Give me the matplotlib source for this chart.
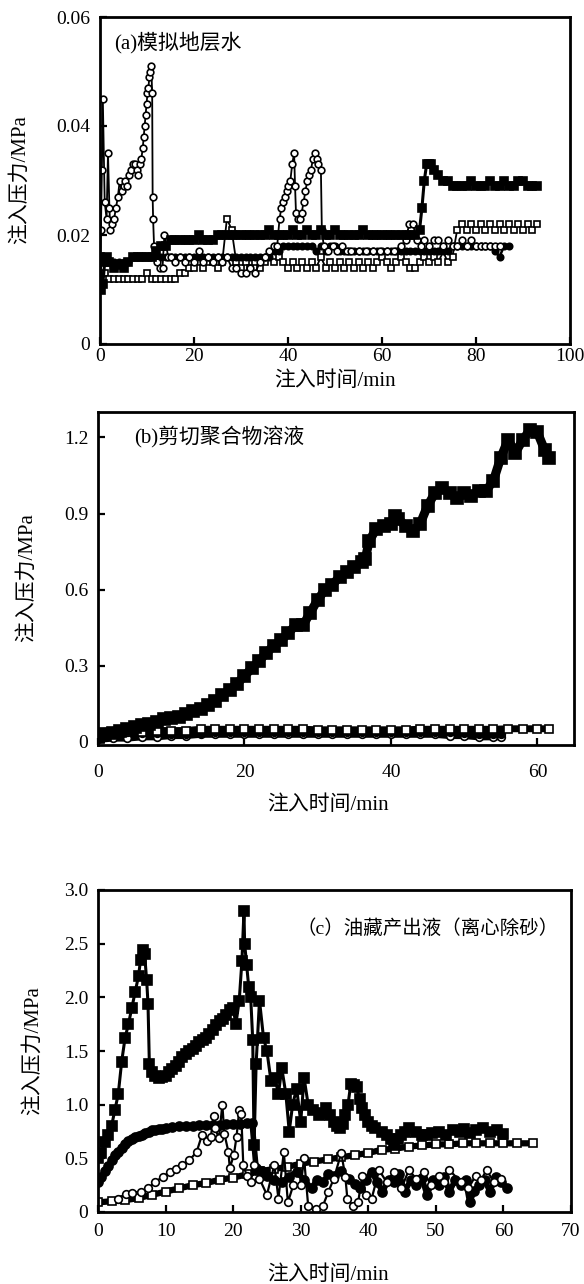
import matplotlib
matplotlib.use('Agg')
import matplotlib.pyplot as plt

plt.rcParams['font.family'] = ['Liberation Serif', 'Noto Sans CJK SC']

# ---------------- (a) 模拟地层水 ----------------
a_fsq_t = [0, 0.3, 0.6, 1, 1.5, 2, 3, 4, 5, 6,
           7, 8, 9, 10, 11, 12, 13, 14, 15, 16,
           17, 18, 19, 20, 21, 22, 23, 24, 25, 26,
           27, 28, 29, 30, 31, 32, 33, 34, 35, 36,
           37, 38, 39, 40, 41, 42, 43, 44, 45, 46,
           47, 48, 49, 50, 51, 52, 53, 54, 55, 56,
           57, 58, 59, 60, 61, 62, 63, 64, 65, 66,
           67, 68, 68.5, 69, 69.5, 70, 70.5, 71, 72, 73,
           74, 75, 76, 77, 78, 79, 80, 81, 82, 83,
           84, 85, 86, 87, 88, 89, 90, 91, 92, 93]
a_fsq_p = [0.016, 0.010, 0.011, 0.015, 0.016, 0.015, 0.014, 0.0145, 0.014, 0.015,
           0.016, 0.016, 0.016, 0.016, 0.016, 0.017, 0.018, 0.018, 0.019, 0.019,
           0.019, 0.019, 0.019, 0.019, 0.020, 0.019, 0.019, 0.019, 0.020, 0.020,
           0.020, 0.020, 0.020, 0.020, 0.020, 0.020, 0.020, 0.020, 0.020, 0.021,
           0.020, 0.020, 0.020, 0.020, 0.021, 0.020, 0.020, 0.021, 0.020, 0.020,
           0.021, 0.020, 0.020, 0.021, 0.020, 0.020, 0.020, 0.020, 0.020, 0.021,
           0.020, 0.020, 0.020, 0.020, 0.020, 0.020, 0.020, 0.020, 0.020, 0.020,
           0.020, 0.021, 0.025, 0.030, 0.033, 0.033, 0.033, 0.032, 0.031, 0.030,
           0.030, 0.029, 0.029, 0.029, 0.029, 0.030, 0.029, 0.029, 0.029, 0.030,
           0.029, 0.029, 0.030, 0.029, 0.029, 0.030, 0.030, 0.029, 0.029, 0.029]

a_osq_t = list(range(0, 94))
a_osq_p = [0.012, 0.013, 0.012, 0.012, 0.012, 0.012, 0.012, 0.012, 0.012, 0.012,
           0.013, 0.012, 0.012, 0.012, 0.012, 0.012, 0.012, 0.013, 0.013, 0.014,
           0.014, 0.015, 0.014, 0.015, 0.015, 0.014, 0.015, 0.023, 0.021, 0.015,
           0.014, 0.015, 0.014, 0.015, 0.014, 0.015, 0.016, 0.015, 0.016, 0.015,
           0.014, 0.015, 0.014, 0.015, 0.014, 0.015, 0.014, 0.016, 0.014, 0.015,
           0.014, 0.015, 0.014, 0.015, 0.014, 0.015, 0.014, 0.015, 0.014, 0.015,
           0.016, 0.015, 0.014, 0.015, 0.016, 0.015, 0.014, 0.014, 0.015, 0.016,
           0.015, 0.016, 0.015, 0.017, 0.015, 0.016, 0.021, 0.022, 0.021, 0.022,
           0.021, 0.022, 0.021, 0.022, 0.021, 0.022, 0.021, 0.022, 0.021, 0.022,
           0.021, 0.022, 0.021, 0.022]

a_ocir_t = [0, 0.2, 0.4, 0.6, 1.0, 1.4, 1.7, 2.0, 2.2, 2.6,
            3.0, 3.4, 3.8, 4.2, 4.6, 5.0, 5.4, 5.8, 6.2, 6.6,
            7.0, 7.4, 7.8, 8.1, 8.5, 8.8, 9.1, 9.3, 9.5, 9.7,
            9.9, 10.1, 10.3, 10.5, 10.7, 10.9, 11.1, 11.2, 11.3, 11.5,
            12.1, 12.7, 13.3, 13.7, 14.5, 15.2, 16, 17, 18, 19,
            20, 21, 22, 23, 24, 25, 26, 27, 28, 29,
            30, 31, 32, 33, 34, 35, 36, 37, 37.7, 38.2,
            38.6, 38.9, 39.3, 39.7, 40.1, 40.5, 40.9, 41.3, 41.5, 41.7,
            42.1, 42.5, 42.9, 43.3, 43.7, 44.1, 44.5, 44.9, 45.3, 45.7,
            46.1, 46.4, 47.0, 47.2, 47.6, 48.5, 49.5, 50.5, 51.5, 52.5,
            53.5, 55, 56.5, 58, 59.5, 61, 62.5, 64, 65, 65.8,
            66.6, 67.4, 68.2, 69, 70, 71, 72, 73, 74, 75,
            76, 77, 78, 79, 80, 81, 82, 83, 84, 85]
a_ocir_p = [0.015, 0.021, 0.032, 0.045, 0.026, 0.023, 0.035, 0.025, 0.021, 0.022,
            0.023, 0.025, 0.027, 0.030, 0.028, 0.029, 0.030, 0.029, 0.031, 0.032,
            0.033, 0.033, 0.032, 0.031, 0.033, 0.034, 0.036, 0.038, 0.040, 0.042,
            0.044, 0.046, 0.047, 0.049, 0.050, 0.051, 0.046, 0.027, 0.023, 0.018,
            0.015, 0.014, 0.014, 0.020, 0.016, 0.016, 0.015, 0.016, 0.015, 0.016,
            0.015, 0.017, 0.015, 0.016, 0.015, 0.016, 0.015, 0.016, 0.014, 0.014,
            0.013, 0.013, 0.014, 0.013, 0.015, 0.016, 0.017, 0.018, 0.018, 0.023,
            0.025, 0.026, 0.027, 0.028, 0.029, 0.030, 0.033, 0.035, 0.029, 0.024,
            0.023, 0.023, 0.024, 0.026, 0.028, 0.030, 0.031, 0.032, 0.034, 0.035,
            0.034, 0.033, 0.032, 0.021, 0.018, 0.017, 0.018, 0.017, 0.018, 0.017,
            0.017, 0.017, 0.017, 0.017, 0.017, 0.017, 0.017, 0.018, 0.019, 0.022,
            0.022, 0.019, 0.018, 0.019, 0.018, 0.019, 0.019, 0.018, 0.019, 0.018,
            0.018, 0.019, 0.018, 0.019, 0.018, 0.018, 0.018, 0.018, 0.018, 0.018]

a_fcir_t = list(range(0, 88))
a_fcir_p = [0.015, 0.016, 0.015, 0.015, 0.015, 0.015, 0.015, 0.016, 0.016, 0.016,
            0.016, 0.016, 0.016, 0.016, 0.016, 0.016, 0.016, 0.016, 0.016, 0.016,
            0.016, 0.016, 0.016, 0.016, 0.016, 0.016, 0.016, 0.016, 0.016, 0.016,
            0.016, 0.016, 0.016, 0.016, 0.016, 0.016, 0.016, 0.017, 0.017, 0.018,
            0.018, 0.018, 0.018, 0.018, 0.018, 0.018, 0.017, 0.018, 0.017, 0.018,
            0.018, 0.017, 0.017, 0.017, 0.017, 0.017, 0.017, 0.017, 0.017, 0.017,
            0.017, 0.017, 0.017, 0.017, 0.017, 0.017, 0.017, 0.017, 0.017, 0.017,
            0.017, 0.017, 0.017, 0.017, 0.017, 0.018, 0.018, 0.018, 0.018, 0.018,
            0.018, 0.018, 0.018, 0.018, 0.017, 0.016, 0.018, 0.018]

# ---------------- (b) 剪切聚合物溶液 ----------------
b_fsq_t = [0, 1, 2, 3, 4, 5, 6, 7, 8, 9,
           10, 11, 12, 13, 14, 15, 16, 17, 18, 19,
           20, 21, 22, 23, 24, 25, 26, 27, 28, 29,
           30, 31, 32, 33, 34, 35, 36, 36.5, 37, 38,
           39, 40, 40.5, 41, 42, 43, 44, 45, 46, 47,
           48, 49, 50, 51, 52, 53, 54, 55, 56, 57,
           58, 59, 60, 61, 61.6]
b_fsq_p = [0.02, 0.03, 0.035, 0.045, 0.05, 0.06, 0.065, 0.07, 0.08, 0.09,
           0.095, 0.10, 0.11, 0.12, 0.13, 0.145, 0.16, 0.185, 0.205, 0.23,
           0.26, 0.29, 0.32, 0.35, 0.38, 0.40, 0.43, 0.46, 0.46, 0.51,
           0.56, 0.60, 0.62, 0.65, 0.67, 0.69, 0.71, 0.72, 0.79, 0.84,
           0.85, 0.86, 0.89, 0.88, 0.85, 0.83, 0.86, 0.93, 0.98, 1.00,
           0.98, 0.96, 0.98, 0.97, 0.99, 0.99, 1.03, 1.12, 1.19, 1.14,
           1.19, 1.23, 1.22, 1.15, 1.12]

b_osq_t = [0, 2, 4, 6, 8, 10, 12, 14, 16, 18,
           20, 22, 24, 26, 28, 30, 32, 34, 36, 38,
           40, 42, 44, 46, 48, 50, 52, 54, 56, 58,
           60, 61.6]
b_osq_p = [0.03, 0.035, 0.04, 0.04, 0.045, 0.045, 0.045, 0.05, 0.05, 0.05,
           0.05, 0.05, 0.05, 0.05, 0.05, 0.048, 0.048, 0.048, 0.048, 0.048,
           0.048, 0.048, 0.05, 0.05, 0.05, 0.05, 0.05, 0.05, 0.052, 0.052,
           0.052, 0.052]

b_cir_t = [0, 2, 4, 6, 8, 10, 12, 14, 16, 18,
           20, 22, 24, 26, 28, 30, 32, 34, 36, 38,
           40, 42, 44, 46, 48, 50, 52, 54, 55]
b_fcir_p = [0.04, 0.045, 0.04, 0.035, 0.035, 0.03, 0.03, 0.035, 0.04, 0.04,
            0.04, 0.04, 0.04, 0.04, 0.04, 0.04, 0.04, 0.04, 0.04, 0.04,
            0.04, 0.04, 0.04, 0.04, 0.04, 0.035, 0.03, 0.03, 0.03]
b_ocir_p = [0.01, 0.015, 0.015, 0.02, 0.02, 0.025, 0.025, 0.03, 0.03, 0.03,
            0.03, 0.03, 0.03, 0.03, 0.03, 0.03, 0.03, 0.03, 0.03, 0.03,
            0.03, 0.03, 0.03, 0.03, 0.025, 0.025, 0.02, 0.02, 0.02]

# ---------------- (c) 油藏产出液（离心除砂） ----------------
c_fsq_t = [0, 0.5, 1, 1.5, 2, 2.5, 3, 3.5, 4, 4.5,
           5, 5.5, 6, 6.3, 6.6, 6.9, 7.2, 7.4, 7.6, 8,
           8.5, 9, 9.5, 10, 10.5, 11, 11.5, 12, 12.5, 13,
           13.5, 14, 14.5, 15, 15.5, 16, 16.5, 17, 17.5, 18,
           18.5, 19, 19.5, 20, 20.4, 20.9, 21.3, 21.6, 21.7, 22,
           22.3, 22.6, 22.9, 23.1, 23.4, 23.9, 24.5, 25, 25.6, 26.2,
           26.7, 27.2, 27.8, 28.3, 28.8, 29.4, 30, 30.5, 31.1, 31.8,
           32.7, 33.3, 33.8, 34.4, 34.9, 35.4, 35.8, 36.2, 36.6, 37,
           37.4, 37.9, 38.3, 38.7, 39, 39.5, 39.9, 40.5, 41, 42,
           42.7, 43.3, 43.8, 44.4, 44.9, 45.5, 46, 47, 48, 48.7,
           49.5, 50.5, 51.5, 52.5, 53.5, 54.2, 55, 56, 57, 58,
           59, 60]
c_fsq_p = [0.50, 0.55, 0.65, 0.72, 0.80, 0.95, 1.10, 1.40, 1.62, 1.75,
           1.90, 2.05, 2.20, 2.35, 2.44, 2.40, 2.16, 1.94, 1.38, 1.30,
           1.27, 1.25, 1.26, 1.27, 1.30, 1.33, 1.36, 1.40, 1.44, 1.47,
           1.50, 1.52, 1.55, 1.58, 1.60, 1.62, 1.66, 1.70, 1.74, 1.78,
           1.80, 1.84, 1.88, 1.90, 1.75, 1.97, 2.34, 2.80, 2.50, 2.30,
           2.10, 2.00, 1.60, 0.62, 1.38, 1.97, 1.62, 1.50, 1.22, 1.25,
           1.10, 1.34, 1.10, 0.75, 1.00, 1.15, 0.84, 1.25, 1.00, 0.95,
           0.90, 0.92, 0.97, 0.90, 0.84, 0.80, 0.78, 0.82, 0.90, 1.00,
           1.19, 1.18, 1.16, 1.05, 0.97, 0.90, 0.84, 0.80, 0.78, 0.75,
           0.72, 0.68, 0.62, 0.68, 0.72, 0.75, 0.78, 0.75, 0.72, 0.72,
           0.74, 0.75, 0.72, 0.76, 0.75, 0.77, 0.74, 0.76, 0.78, 0.75,
           0.76, 0.73]

c_fcir_t = [0, 0.5, 1, 1.5, 2, 2.5, 3, 3.5, 4, 4.5,
            5, 5.5, 6, 6.5, 7, 7.5, 8, 8.5, 9, 9.5,
            10, 11, 12, 13, 14, 15, 16, 17, 18, 19,
            20, 21, 22, 22.8, 23.4, 24.2, 25, 26, 27.2, 28.3,
            29.4, 30.5, 31.6, 32.4, 33.3, 34.1, 34.9, 36, 37.1, 38,
            38.8, 39.6, 40.5, 41.3, 42.1, 43, 43.8, 44.6, 45.4, 46.3,
            47.1, 47.9, 48.7, 49.6, 50.4, 51.2, 52, 52.9, 53.7, 54.4,
            55, 55.7, 56.4, 57.2, 58, 58.9, 59.7, 60.5]
c_fcir_p = [0.28, 0.33, 0.38, 0.43, 0.48, 0.53, 0.56, 0.60, 0.63, 0.66,
            0.68, 0.70, 0.71, 0.72, 0.74, 0.75, 0.76, 0.76, 0.77, 0.77,
            0.78, 0.79, 0.80, 0.80, 0.80, 0.81, 0.81, 0.81, 0.81, 0.82,
            0.82, 0.82, 0.83, 0.83, 0.41, 0.38, 0.34, 0.30, 0.28, 0.33,
            0.375, 0.30, 0.22, 0.30, 0.28, 0.35, 0.34, 0.38, 0.31, 0.26,
            0.22, 0.30, 0.375, 0.28, 0.19, 0.30, 0.28, 0.35, 0.19, 0.30,
            0.25, 0.32, 0.16, 0.30, 0.25, 0.33, 0.19, 0.30, 0.25, 0.30,
            0.09, 0.20, 0.25, 0.30, 0.19, 0.33, 0.28, 0.22]

c_ocir_t = [3, 4.1, 5, 6.3, 7.4, 8.5, 9.6, 10.7, 11.5, 12.4,
            13.5, 14.6, 15.4, 16.2, 16.7, 17.1, 17.3, 17.9, 18.4, 18.7,
            19.3, 19.5, 20.1, 20.5, 20.9, 21.2, 21.5, 22, 22.6, 23.1,
            23.9, 25, 26.1, 26.7, 27.5, 28.1, 28.9, 30, 30.5, 31.1,
            32.2, 33.3, 34.1, 34.9, 36, 36.6, 36.9, 37.7, 38.5, 39.1,
            39.6, 40.5, 41.6, 42.7, 43.8, 44.9, 46, 47.1, 48.2, 49.3,
            50.4, 51.2, 52, 53.7, 54.8, 55.9, 56.7, 57.5, 58.6, 59.7]
c_ocir_p = [0.12, 0.17, 0.18, 0.19, 0.22, 0.28, 0.33, 0.375, 0.40, 0.44,
            0.48, 0.56, 0.72, 0.66, 0.70, 0.89, 0.78, 0.69, 1.00, 0.73,
            0.56, 0.41, 0.53, 0.70, 0.95, 0.91, 0.44, 0.34, 0.28, 0.44,
            0.31, 0.16, 0.44, 0.125, 0.56, 0.09, 0.25, 0.25, 0.50, 0.06,
            0.03, 0.06, 0.19, 0.31, 0.55, 0.33, 0.125, 0.06, 0.09, 0.34,
            0.16, 0.125, 0.39, 0.28, 0.375, 0.22, 0.39, 0.31, 0.375, 0.25,
            0.34, 0.28, 0.39, 0.28, 0.22, 0.34, 0.30, 0.39, 0.28, 0.31]

c_osq_t = [0, 2, 4, 6, 8, 10, 12, 14, 16, 18,
           20, 22, 24, 26, 28, 30, 32, 34, 36, 38,
           40, 42, 44, 46, 48, 50, 52, 54, 56, 58,
           60, 62, 64.4]
c_osq_p = [0.09, 0.10, 0.11, 0.13, 0.16, 0.19, 0.22, 0.25, 0.27, 0.30,
           0.32, 0.35, 0.38, 0.40, 0.42, 0.45, 0.47, 0.49, 0.51, 0.53,
           0.55, 0.58, 0.59, 0.61, 0.62, 0.63, 0.63, 0.64, 0.64, 0.64,
           0.64, 0.64, 0.64]

W, H = 584, 1284
fig = plt.figure(figsize=(W / 100, H / 100), dpi=100)


def box(l, t, r, b):
    return [l / W, 1 - b / H, (r - l) / W, (b - t) / H]


ax_a = fig.add_axes(box(100, 17, 570, 344))
ax_b = fig.add_axes(box(98, 412, 574, 745))
ax_c = fig.add_axes(box(98, 890, 571, 1212))


def series(ax, t, p, marker, filled, ms, lw=1.3, mew=1.2):
    fc = 'black' if filled else 'white'
    ax.plot(t, p, color='black', lw=lw, marker=marker, ms=ms,
            mfc=fc, mec='black', mew=mew)


# (a)
series(ax_a, a_osq_t, a_osq_p, 's', False, 4.6)
series(ax_a, a_fcir_t, a_fcir_p, 'o', True, 4.6, lw=1.8)
series(ax_a, a_ocir_t, a_ocir_p, 'o', False, 4.8)
series(ax_a, a_fsq_t, a_fsq_p, 's', True, 5.2, lw=2.2)

# (b)
series(ax_b, b_cir_t, b_ocir_p, 'o', False, 5.5, lw=5)
series(ax_b, b_cir_t, b_fcir_p, 'o', True, 5.5, lw=5)
series(ax_b, b_osq_t, b_osq_p, 's', False, 5.5, lw=5)
series(ax_b, b_fsq_t, b_fsq_p, 's', True, 8.5, lw=6.5)

# (c)
series(ax_c, c_osq_t, c_osq_p, 's', False, 5.5, lw=4.5)
series(ax_c, c_fcir_t, c_fcir_p, 'o', True, 6.5, lw=4)
series(ax_c, c_ocir_t, c_ocir_p, 'o', False, 5.5, lw=1.6)
series(ax_c, c_fsq_t, c_fsq_p, 's', True, 6.5, lw=2.2)

for ax in (ax_a, ax_b, ax_c):
    for s in ax.spines.values():
        s.set_linewidth(2)
    ax.tick_params(direction='in', length=5, width=1.6, top=False,
                   right=False, labelsize=14)

ax_a.set_xlim(0, 100)
ax_a.set_ylim(0, 0.06)
ax_a.set_xticks([0, 20, 40, 60, 80, 100])
ax_a.set_yticks([0, 0.02, 0.04, 0.06], ['0', '0.02', '0.04', '0.06'])
ax_a.tick_params(axis='x', pad=3)
ax_a.tick_params(axis='y', pad=7)

ax_b.set_xlim(0, 65)
ax_b.set_ylim(-0.012, 1.3)
ax_b.set_xticks([0, 20, 40, 60])
ax_b.set_yticks([0, 0.3, 0.6, 0.9, 1.2], ['0', '0.3', '0.6', '0.9', '1.2'])
ax_b.tick_params(axis='x', pad=14)
ax_b.tick_params(axis='y', pad=7)

ax_c.set_xlim(0, 70)
ax_c.set_ylim(0, 3.0)
ax_c.set_xticks([0, 10, 20, 30, 40, 50, 60, 70])
ax_c.set_yticks([0, 0.5, 1.0, 1.5, 2.0, 2.5, 3.0],
                ['0', '0.5', '1.0', '1.5', '2.0', '2.5', '3.0'])
ax_c.tick_params(axis='x', pad=8)
ax_c.tick_params(axis='y', pad=7)

ax_a.text(0.03, 0.92, '(a)模拟地层水', transform=ax_a.transAxes,
          fontsize=15, ha='left', va='center')
ax_b.text(0.075, 0.925, '(b)剪切聚合物溶液', transform=ax_b.transAxes,
          fontsize=15, ha='left', va='center')
ax_c.text(0.975, 0.88, '（c）油藏产出液（离心除砂）', transform=ax_c.transAxes,
          fontsize=14, ha='right', va='center')

# axis titles
for yc, xc in ((180, 20), (578, 27), (1051, 33)):
    fig.text(xc / W, 1 - yc / H, '注入压力/MPa', rotation=90,
             fontsize=15, ha='center', va='center')
for yc, xc in ((381, 335), (805, 328), (1275, 328)):
    fig.text(xc / W, 1 - yc / H, '注入时间/min',
             fontsize=15, ha='center', va='center')

fig.savefig('out.png', dpi=100)
